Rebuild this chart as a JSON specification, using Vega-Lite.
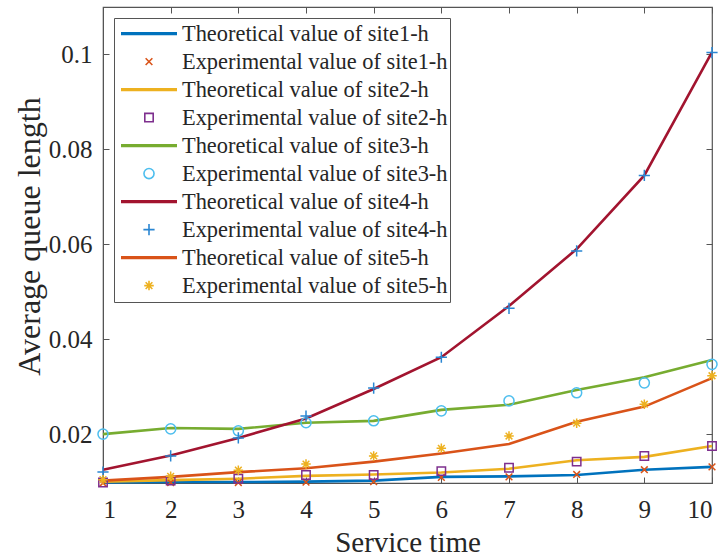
{
  "$schema": "https://vega.github.io/schema/vega-lite/v6.json",
  "width": 609,
  "height": 476,
  "autosize": {"type": "none"},
  "padding": {"left": 103, "top": 7, "right": 15, "bottom": 77},
  "background": "white",
  "config": {
    "view": {"stroke": "#555555", "strokeWidth": 1.2},
    "font": "Liberation Serif",
    "axis": {
      "labelFont": "Liberation Serif",
      "titleFont": "Liberation Serif",
      "labelFontSize": 25,
      "titleFontSize": 29,
      "titleFontWeight": "normal",
      "labelColor": "#262626",
      "titleColor": "#262626",
      "domainColor": "#555555",
      "tickColor": "#555555",
      "grid": false,
      "tickSize": -6,
      "tickWidth": 1
    },
    "legend": {
      "labelFont": "Liberation Serif",
      "labelFontSize": 22.4,
      "labelColor": "#262626",
      "labelLimit": 0,
      "strokeColor": "#555555",
      "fillColor": "white",
      "padding": 2,
      "offset": 11,
      "symbolStrokeWidth": 1.6,
      "symbolSize": 3136,
      "symbolOffset": 4,
      "labelOffset": 4,
      "clipHeight": 27.2,
      "rowPadding": 0,
      "cornerRadius": 0
    }
  },
  "data": {"values": [
    {"x":1,"y":0.0098,"series":"Theoretical value of site1-h","kind":"T"},
    {"x":2,"y":0.0099,"series":"Theoretical value of site1-h","kind":"T"},
    {"x":3,"y":0.0099,"series":"Theoretical value of site1-h","kind":"T"},
    {"x":4,"y":0.0100,"series":"Theoretical value of site1-h","kind":"T"},
    {"x":5,"y":0.0102,"series":"Theoretical value of site1-h","kind":"T"},
    {"x":6,"y":0.0110,"series":"Theoretical value of site1-h","kind":"T"},
    {"x":7,"y":0.0111,"series":"Theoretical value of site1-h","kind":"T"},
    {"x":8,"y":0.0114,"series":"Theoretical value of site1-h","kind":"T"},
    {"x":9,"y":0.0125,"series":"Theoretical value of site1-h","kind":"T"},
    {"x":10,"y":0.0131,"series":"Theoretical value of site1-h","kind":"T"},
    {"x":1,"y":0.0097,"series":"Experimental value of site1-h","kind":"E"},
    {"x":2,"y":0.0098,"series":"Experimental value of site1-h","kind":"E"},
    {"x":3,"y":0.0098,"series":"Experimental value of site1-h","kind":"E"},
    {"x":4,"y":0.0099,"series":"Experimental value of site1-h","kind":"E"},
    {"x":5,"y":0.0100,"series":"Experimental value of site1-h","kind":"E"},
    {"x":6,"y":0.0109,"series":"Experimental value of site1-h","kind":"E"},
    {"x":7,"y":0.0110,"series":"Experimental value of site1-h","kind":"E"},
    {"x":8,"y":0.0115,"series":"Experimental value of site1-h","kind":"E"},
    {"x":9,"y":0.0125,"series":"Experimental value of site1-h","kind":"E"},
    {"x":10,"y":0.0131,"series":"Experimental value of site1-h","kind":"E"},
    {"x":1,"y":0.0100,"series":"Theoretical value of site2-h","kind":"T"},
    {"x":2,"y":0.0103,"series":"Theoretical value of site2-h","kind":"T"},
    {"x":3,"y":0.0106,"series":"Theoretical value of site2-h","kind":"T"},
    {"x":4,"y":0.0112,"series":"Theoretical value of site2-h","kind":"T"},
    {"x":5,"y":0.0115,"series":"Theoretical value of site2-h","kind":"T"},
    {"x":6,"y":0.0119,"series":"Theoretical value of site2-h","kind":"T"},
    {"x":7,"y":0.0127,"series":"Theoretical value of site2-h","kind":"T"},
    {"x":8,"y":0.0145,"series":"Theoretical value of site2-h","kind":"T"},
    {"x":9,"y":0.0152,"series":"Theoretical value of site2-h","kind":"T"},
    {"x":10,"y":0.0175,"series":"Theoretical value of site2-h","kind":"T"},
    {"x":1,"y":0.0098,"series":"Experimental value of site2-h","kind":"E"},
    {"x":2,"y":0.0102,"series":"Experimental value of site2-h","kind":"E"},
    {"x":3,"y":0.0106,"series":"Experimental value of site2-h","kind":"E"},
    {"x":4,"y":0.0114,"series":"Experimental value of site2-h","kind":"E"},
    {"x":5,"y":0.0114,"series":"Experimental value of site2-h","kind":"E"},
    {"x":6,"y":0.0122,"series":"Experimental value of site2-h","kind":"E"},
    {"x":7,"y":0.0129,"series":"Experimental value of site2-h","kind":"E"},
    {"x":8,"y":0.0142,"series":"Experimental value of site2-h","kind":"E"},
    {"x":9,"y":0.0154,"series":"Experimental value of site2-h","kind":"E"},
    {"x":10,"y":0.0175,"series":"Experimental value of site2-h","kind":"E"},
    {"x":1,"y":0.0200,"series":"Theoretical value of site3-h","kind":"T"},
    {"x":2,"y":0.0213,"series":"Theoretical value of site3-h","kind":"T"},
    {"x":3,"y":0.0211,"series":"Theoretical value of site3-h","kind":"T"},
    {"x":4,"y":0.0224,"series":"Theoretical value of site3-h","kind":"T"},
    {"x":5,"y":0.0228,"series":"Theoretical value of site3-h","kind":"T"},
    {"x":6,"y":0.0251,"series":"Theoretical value of site3-h","kind":"T"},
    {"x":7,"y":0.0262,"series":"Theoretical value of site3-h","kind":"T"},
    {"x":8,"y":0.0293,"series":"Theoretical value of site3-h","kind":"T"},
    {"x":9,"y":0.0320,"series":"Theoretical value of site3-h","kind":"T"},
    {"x":10,"y":0.0356,"series":"Theoretical value of site3-h","kind":"T"},
    {"x":1,"y":0.0200,"series":"Experimental value of site3-h","kind":"E"},
    {"x":2,"y":0.0211,"series":"Experimental value of site3-h","kind":"E"},
    {"x":3,"y":0.0207,"series":"Experimental value of site3-h","kind":"E"},
    {"x":4,"y":0.0224,"series":"Experimental value of site3-h","kind":"E"},
    {"x":5,"y":0.0228,"series":"Experimental value of site3-h","kind":"E"},
    {"x":6,"y":0.0249,"series":"Experimental value of site3-h","kind":"E"},
    {"x":7,"y":0.0270,"series":"Experimental value of site3-h","kind":"E"},
    {"x":8,"y":0.0287,"series":"Experimental value of site3-h","kind":"E"},
    {"x":9,"y":0.0308,"series":"Experimental value of site3-h","kind":"E"},
    {"x":10,"y":0.0347,"series":"Experimental value of site3-h","kind":"E"},
    {"x":1,"y":0.0125,"series":"Theoretical value of site4-h","kind":"T"},
    {"x":2,"y":0.0155,"series":"Theoretical value of site4-h","kind":"T"},
    {"x":3,"y":0.0192,"series":"Theoretical value of site4-h","kind":"T"},
    {"x":4,"y":0.0233,"series":"Theoretical value of site4-h","kind":"T"},
    {"x":5,"y":0.0295,"series":"Theoretical value of site4-h","kind":"T"},
    {"x":6,"y":0.0362,"series":"Theoretical value of site4-h","kind":"T"},
    {"x":7,"y":0.0470,"series":"Theoretical value of site4-h","kind":"T"},
    {"x":8,"y":0.0590,"series":"Theoretical value of site4-h","kind":"T"},
    {"x":9,"y":0.0745,"series":"Theoretical value of site4-h","kind":"T"},
    {"x":10,"y":0.1005,"series":"Theoretical value of site4-h","kind":"T"},
    {"x":1,"y":0.0120,"series":"Experimental value of site4-h","kind":"E"},
    {"x":2,"y":0.0154,"series":"Experimental value of site4-h","kind":"E"},
    {"x":3,"y":0.0192,"series":"Experimental value of site4-h","kind":"E"},
    {"x":4,"y":0.0238,"series":"Experimental value of site4-h","kind":"E"},
    {"x":5,"y":0.0297,"series":"Experimental value of site4-h","kind":"E"},
    {"x":6,"y":0.0362,"series":"Experimental value of site4-h","kind":"E"},
    {"x":7,"y":0.0465,"series":"Experimental value of site4-h","kind":"E"},
    {"x":8,"y":0.0586,"series":"Experimental value of site4-h","kind":"E"},
    {"x":9,"y":0.0745,"series":"Experimental value of site4-h","kind":"E"},
    {"x":10,"y":0.1004,"series":"Experimental value of site4-h","kind":"E"},
    {"x":1,"y":0.0102,"series":"Theoretical value of site5-h","kind":"T"},
    {"x":2,"y":0.0110,"series":"Theoretical value of site5-h","kind":"T"},
    {"x":3,"y":0.0120,"series":"Theoretical value of site5-h","kind":"T"},
    {"x":4,"y":0.0128,"series":"Theoretical value of site5-h","kind":"T"},
    {"x":5,"y":0.0142,"series":"Theoretical value of site5-h","kind":"T"},
    {"x":6,"y":0.0159,"series":"Theoretical value of site5-h","kind":"T"},
    {"x":7,"y":0.0179,"series":"Theoretical value of site5-h","kind":"T"},
    {"x":8,"y":0.0226,"series":"Theoretical value of site5-h","kind":"T"},
    {"x":9,"y":0.0258,"series":"Theoretical value of site5-h","kind":"T"},
    {"x":10,"y":0.0318,"series":"Theoretical value of site5-h","kind":"T"},
    {"x":1,"y":0.0104,"series":"Experimental value of site5-h","kind":"E"},
    {"x":2,"y":0.0111,"series":"Experimental value of site5-h","kind":"E"},
    {"x":3,"y":0.0124,"series":"Experimental value of site5-h","kind":"E"},
    {"x":4,"y":0.0137,"series":"Experimental value of site5-h","kind":"E"},
    {"x":5,"y":0.0154,"series":"Experimental value of site5-h","kind":"E"},
    {"x":6,"y":0.0170,"series":"Experimental value of site5-h","kind":"E"},
    {"x":7,"y":0.0196,"series":"Experimental value of site5-h","kind":"E"},
    {"x":8,"y":0.0223,"series":"Experimental value of site5-h","kind":"E"},
    {"x":9,"y":0.0263,"series":"Experimental value of site5-h","kind":"E"},
    {"x":10,"y":0.0323,"series":"Experimental value of site5-h","kind":"E"}
  ]},
  "resolve": {"axis": {"x": "independent", "y": "independent"}},
  "layer": [
    {
      "transform": [{"filter": "datum.kind === 'T'"}],
      "mark": {"type": "line", "strokeWidth": 2.6},
      "encoding": {
        "x": {"field": "x", "type": "quantitative",
              "scale": {"domain": [1, 10], "nice": false, "zero": false},
              "axis": {"title": "Service time", "values": [1,2,3,4,5,6,7,8,9,10], "format": "d", "labelPadding": 20, "titlePadding": 6}},
        "y": {"field": "y", "type": "quantitative",
              "scale": {"domain": [0.0097, 0.11], "nice": false, "zero": false},
              "axis": {"title": "Average queue length", "titleFontSize": 32, "titleY": 229, "values": [0.02,0.04,0.06,0.08,0.1], "format": "~g", "labelPadding": 17, "titlePadding": 2}},
        "stroke": {"field": "series", "type": "nominal",
                   "scale": {"domain": [
                     "Theoretical value of site1-h","Experimental value of site1-h",
                     "Theoretical value of site2-h","Experimental value of site2-h",
                     "Theoretical value of site3-h","Experimental value of site3-h",
                     "Theoretical value of site4-h","Experimental value of site4-h",
                     "Theoretical value of site5-h","Experimental value of site5-h"],
                     "range": ["#0072BD","#D95319","#EDB120","#7E2F8E","#77AC30","#4DBEEE","#A2142F","#2A86D2","#D95319","#EDB120"]},
                   "legend": {"title": null, "orient": "top-left",
                              "labelExpr": "datum.label + ' '",
                              "symbolFillColor": "transparent",
                              "encode": {"symbols": {"update": {"fill": {"value": "transparent"}}}}}},
        "detail": {"field": "series"},
        "order": {"field": "x"}
      }
    },
    {
      "transform": [{"filter": "datum.kind === 'E'"}],
      "mark": {"type": "point", "filled": false, "size": 3136, "strokeWidth": 1.5, "opacity": 1},
      "encoding": {
        "x": {"field": "x", "type": "quantitative",
              "axis": {"orient": "top", "title": null, "labels": false, "domain": false, "values": [1,2,3,4,5,6,7,8,9,10]}},
        "y": {"field": "y", "type": "quantitative",
              "axis": {"orient": "right", "title": null, "labels": false, "domain": false, "values": [0.02,0.04,0.06,0.08,0.1]}},
        "stroke": {"field": "series", "type": "nominal"},
        "shape": {"field": "series", "type": "nominal",
                  "scale": {"domain": [
                     "Theoretical value of site1-h","Experimental value of site1-h",
                     "Theoretical value of site2-h","Experimental value of site2-h",
                     "Theoretical value of site3-h","Experimental value of site3-h",
                     "Theoretical value of site4-h","Experimental value of site4-h",
                     "Theoretical value of site5-h","Experimental value of site5-h"],
                     "range": [
                       "M-1,-0.03H1M-1,0H1M-1,0.03H1",
                       "M-0.12,-0.12L0.12,0.12M-0.12,0.12L0.12,-0.12",
                       "M-1,-0.03H1M-1,0H1M-1,0.03H1",
                       "M-0.15,-0.15H0.15V0.15H-0.15Z",
                       "M-1,-0.03H1M-1,0H1M-1,0.03H1",
                       "M-0.18,0A0.18,0.18,0,1,0,0.18,0A0.18,0.18,0,1,0,-0.18,0Z",
                       "M-1,-0.03H1M-1,0H1M-1,0.03H1",
                       "M-0.2,0H0.2M0,-0.2V0.2",
                       "M-1,-0.03H1M-1,0H1M-1,0.03H1",
                       "M-0.17,0H0.17M0,-0.17V0.17M-0.12,-0.12L0.12,0.12M-0.12,0.12L0.12,-0.12"
                     ]},
                  "legend": {"title": null, "orient": "top-left", "labelExpr": "datum.label + ' '"}}
      }
    }
  ]
}
